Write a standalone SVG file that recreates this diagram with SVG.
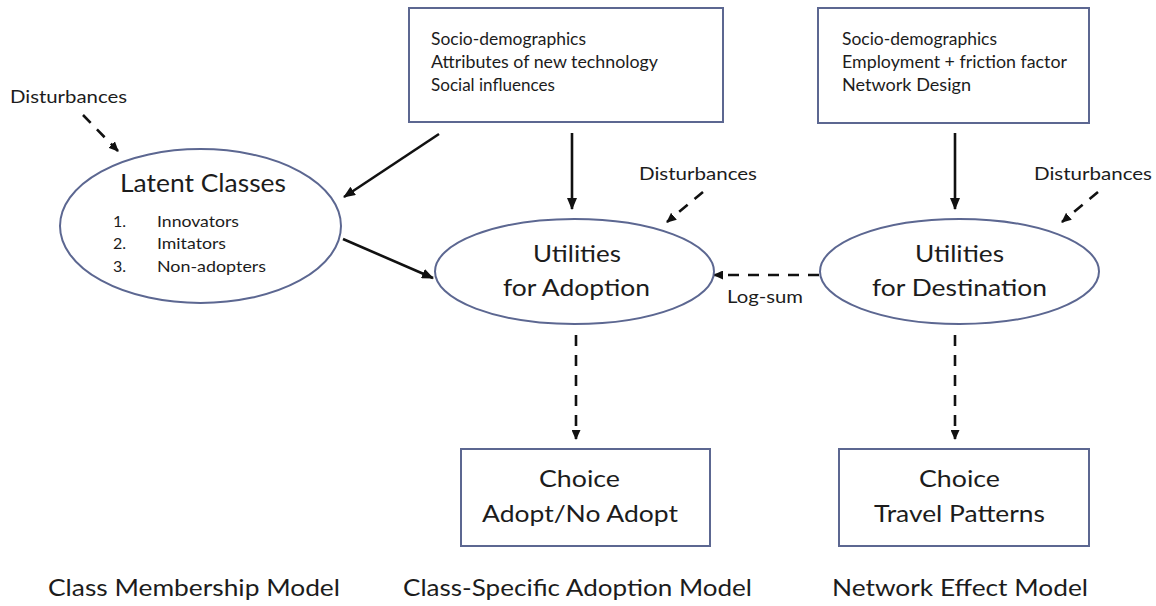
<svg xmlns="http://www.w3.org/2000/svg" width="1156" height="606" viewBox="0 0 1156 606">
<defs>
<style>
text{font-family:Lato,"Open Sans","Liberation Sans",sans-serif;fill:#1c1c1c}
.node{fill:#fff;stroke:#5c6791;stroke-width:2}
.solid{stroke:#111;stroke-width:2.6;fill:none}
.dash{stroke:#111;stroke-width:2.6;fill:none;stroke-dasharray:11 9}
.big{font-size:24px}
.mid{font-size:17px}
.small{font-size:16px}
.dist{font-size:18px}
</style>
<marker id="ah" viewBox="0 0 12 10" refX="11" refY="5" markerWidth="12" markerHeight="10" markerUnits="userSpaceOnUse" orient="auto">
<path d="M0,0 L12,5 L0,10 z" fill="#111"/>
</marker>
<marker id="ahs" viewBox="0 0 10 9" refX="9" refY="4.5" markerWidth="10" markerHeight="9" markerUnits="userSpaceOnUse" orient="auto">
<path d="M0,0 L10,4.5 L0,9 z" fill="#111"/>
</marker>
</defs>
<rect width="1156" height="606" fill="#fff"/>

<g id="connectors">
<line class="solid" x1="439" y1="134" x2="344" y2="197" marker-end="url(#ah)"/>
<line class="solid" x1="343" y1="239" x2="433" y2="278" marker-end="url(#ah)"/>
<line class="solid" x1="572" y1="133" x2="572" y2="209" marker-end="url(#ah)"/>
<line class="solid" x1="955" y1="133" x2="955" y2="209" marker-end="url(#ah)"/>
<line class="dash" x1="83" y1="115" x2="118" y2="151" marker-end="url(#ahs)"/>
<line class="dash" x1="703" y1="192" x2="667" y2="222" marker-end="url(#ahs)"/>
<line class="dash" x1="1098" y1="192" x2="1062" y2="222" marker-end="url(#ahs)"/>
<line class="dash" x1="819" y1="275" x2="714" y2="275" marker-end="url(#ahs)"/>
<line class="dash" x1="576" y1="335" x2="576" y2="439" marker-end="url(#ahs)"/>
<line class="dash" x1="955" y1="335" x2="955" y2="439" marker-end="url(#ahs)"/>
<text class="mid" x="727" y="303" textLength="76" lengthAdjust="spacingAndGlyphs">Log-sum</text>
</g>

<g id="dist-left"><text class="dist" x="10" y="103" textLength="117" lengthAdjust="spacingAndGlyphs">Disturbances</text></g>
<g id="dist-mid"><text class="dist" x="639" y="180" textLength="118" lengthAdjust="spacingAndGlyphs">Disturbances</text></g>
<g id="dist-right"><text class="dist" x="1034" y="180" textLength="118" lengthAdjust="spacingAndGlyphs">Disturbances</text></g>

<g id="box-adoption-inputs">
<rect class="node" x="409" y="8" width="314" height="114"/>
<text class="mid" x="431" y="45" textLength="155" lengthAdjust="spacingAndGlyphs">Socio-demographics</text>
<text class="mid" x="431" y="68" textLength="227" lengthAdjust="spacingAndGlyphs">Attributes of new technology</text>
<text class="mid" x="431" y="91" textLength="124" lengthAdjust="spacingAndGlyphs">Social influences</text>
</g>

<g id="box-network-inputs">
<rect class="node" x="818" y="8" width="271" height="115"/>
<text class="mid" x="842" y="45" textLength="155" lengthAdjust="spacingAndGlyphs">Socio-demographics</text>
<text class="mid" x="842" y="68" textLength="225" lengthAdjust="spacingAndGlyphs">Employment + friction factor</text>
<text class="mid" x="842" y="91" textLength="129" lengthAdjust="spacingAndGlyphs">Network Design</text>
</g>

<g id="latent-classes">
<ellipse class="node" cx="200.5" cy="226" rx="140.5" ry="77"/>
<text class="big" x="120" y="192" style="font-size:25px" textLength="166" lengthAdjust="spacingAndGlyphs">Latent Classes</text>
<text class="small" x="113" y="227">1.</text>
<text class="small" x="157" y="227" textLength="82" lengthAdjust="spacingAndGlyphs">Innovators</text>
<text class="small" x="113" y="249">2.</text>
<text class="small" x="157" y="249" textLength="69" lengthAdjust="spacingAndGlyphs">Imitators</text>
<text class="small" x="113" y="272">3.</text>
<text class="small" x="157" y="272" textLength="109" lengthAdjust="spacingAndGlyphs">Non-adopters</text>
</g>

<g id="utilities-adoption">
<ellipse class="node" cx="574.5" cy="271.5" rx="139.5" ry="52.5"/>
<text class="big" x="533" y="262" textLength="88" lengthAdjust="spacingAndGlyphs">Utilities</text>
<text class="big" x="503" y="296" textLength="147" lengthAdjust="spacingAndGlyphs">for Adoption</text>
</g>

<g id="utilities-destination">
<ellipse class="node" cx="959.5" cy="271.5" rx="139.5" ry="52.5"/>
<text class="big" x="915" y="262" textLength="89" lengthAdjust="spacingAndGlyphs">Utilities</text>
<text class="big" x="872" y="296" textLength="175" lengthAdjust="spacingAndGlyphs">for Destination</text>
</g>

<g id="choice-adopt">
<rect class="node" x="461" y="449" width="249" height="97"/>
<text class="big" x="539" y="487" textLength="81" lengthAdjust="spacingAndGlyphs">Choice</text>
<text class="big" x="482" y="522" textLength="196" lengthAdjust="spacingAndGlyphs">Adopt/No Adopt</text>
</g>

<g id="choice-travel">
<rect class="node" x="839" y="449" width="250" height="97"/>
<text class="big" x="919" y="487" textLength="81" lengthAdjust="spacingAndGlyphs">Choice</text>
<text class="big" x="874" y="522" textLength="171" lengthAdjust="spacingAndGlyphs">Travel Patterns</text>
</g>

<g id="labels">
<text class="big" x="48" y="596" textLength="292" lengthAdjust="spacingAndGlyphs">Class Membership Model</text>
<text class="big" x="403" y="596" textLength="349" lengthAdjust="spacingAndGlyphs">Class-Specific Adoption Model</text>
<text class="big" x="832" y="596" textLength="256" lengthAdjust="spacingAndGlyphs">Network Effect Model</text>
</g>
</svg>
